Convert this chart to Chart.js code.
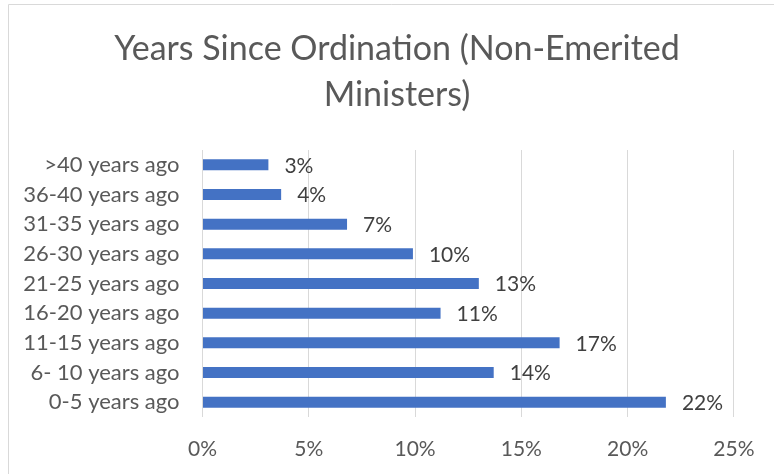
<!DOCTYPE html>
<html>
<head>
<meta charset="utf-8">
<script src="https://cdn.jsdelivr.net/npm/chart.js@4.4.0/dist/chart.umd.min.js"></script>
<style>
  html, body { margin: 0; padding: 0; background: #fff; }
  #wrap { width: 774px; height: 474px; position: relative; }
</style>
</head>
<body>
<div id="wrap"><canvas id="chart"></canvas></div>
<script>
// data (percent of non-emerited ministers)
const categories = ['>40 years ago', '36-40 years ago', '31-35 years ago', '26-30 years ago',
  '21-25 years ago', '16-20 years ago', '11-15 years ago', '6- 10 years ago', '0-5 years ago'];
const shares = [3.1, 3.7, 6.8, 9.9, 13.0, 11.2, 16.8, 13.7, 21.8];
const xTicks = [0, 5, 10, 15, 20, 25];
const xTickLabels = ['0%', '5%', '10%', '15%', '20%', '25%'];

const FONT = "Lato, 'Liberation Sans', sans-serif";

// thin grey frame like the Excel chart border (only top/left are in the crop)
const framePlugin = {
  id: 'frame',
  afterLayout(chart) {
    // centre the title over the middle of the excel chart, not the canvas
    if (chart.titleBlock) {
      chart.titleBlock.left = 58.7;
      chart.titleBlock.right = 735.3;
    }
  },
  beforeDraw(chart) {
    const ctx = chart.ctx;
    ctx.save();
    ctx.strokeStyle = '#d9d9d9';
    ctx.lineWidth = 1;
    ctx.beginPath();
    ctx.moveTo(8.5, chart.height);
    ctx.lineTo(8.5, 4.5);
    ctx.lineTo(chart.width, 4.5);
    ctx.stroke();
    ctx.restore();
  }
};

// value labels at the end of each bar
const valueLabels = {
  id: 'valueLabels',
  afterDatasetsDraw(chart) {
    const ctx = chart.ctx;
    const meta = chart.getDatasetMeta(0);
    ctx.save();
    ctx.font = '21px ' + FONT;
    ctx.fillStyle = '#404040';
    ctx.textAlign = 'left';
    ctx.textBaseline = 'middle';
    meta.data.forEach((bar, i) => {
      ctx.fillText(Math.round(shares[i]) + '%', bar.x + 16, bar.y + 1);
    });
    ctx.restore();
  }
};

new Chart(document.getElementById('chart'), {
  type: 'bar',
  data: {
    labels: categories,
    datasets: [{
      data: shares,
      backgroundColor: '#4472c4',
      borderWidth: 0,
      categoryPercentage: 1,
      barPercentage: 0.37
    }]
  },
  options: {
    indexAxis: 'y',
    responsive: true,
    maintainAspectRatio: false,
    devicePixelRatio: 1,
    animation: false,
    layout: { padding: { left: 0, right: 38.7, top: 0, bottom: 0 } },
    plugins: {
      legend: { display: false },
      tooltip: { enabled: false },
      title: {
        display: true,
        text: ['Years Since Ordination (Non-Emerited', 'Ministers)'],
        color: '#595959',
        font: { family: FONT, size: 34, weight: 'normal', lineHeight: 46 / 34 },
        padding: { top: 26.5, bottom: 31.5 }
      }
    },
    scales: {
      x: {
        min: 0,
        max: 25,
        afterBuildTicks: s => { s.ticks = xTicks.map(v => ({ value: v })); },
        afterFit: s => { s.height = 57; },
        ticks: {
          callback: (v) => xTickLabels[xTicks.indexOf(v)],
          color: '#595959',
          font: { family: FONT, size: 21 },
          padding: 19.5,
          maxRotation: 0
        },
        grid: { color: '#d9d9d9', lineWidth: 1, drawTicks: false },
        border: { display: false }
      },
      y: {
        afterFit: s => { s.width = 202.5; },
        ticks: {
          color: '#595959',
          font: { family: FONT, size: 22 },
          padding: 23
        },
        grid: { display: false, drawTicks: false },
        border: { display: false }
      }
    }
  },
  plugins: [framePlugin, valueLabels]
});
</script>
</body>
</html>
